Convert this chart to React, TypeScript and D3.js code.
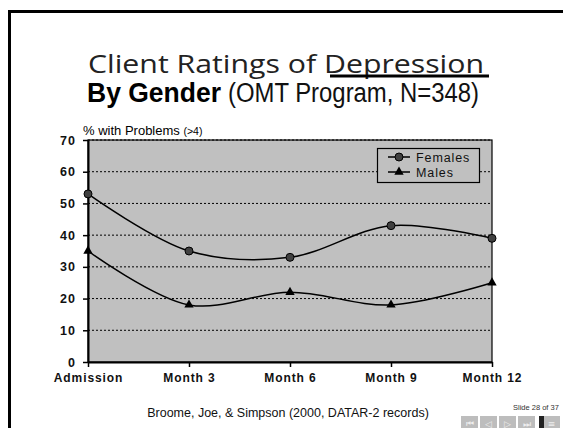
import React, { useEffect, useRef } from "react";
import * as d3 from "d3";

const months = ["Admission", "Month 3", "Month 6", "Month 9", "Month 12"];
const females = [53, 35, 33, 43, 39];
const males = [35, 18, 22, 18, 25];
const yTicks = [0, 10, 20, 30, 40, 50, 60, 70];
const navButtons = ["⏮", "◁", "▷", "⏭", "≡"];

export default function App() {
  const ref = useRef<SVGSVGElement>(null);

  const width = 563;
  const height = 428;
  const plot = { left: 88, right: 492, top: 140, bottom: 362 };

  useEffect(() => {
    const svg = d3.select(ref.current);
    svg.selectAll("*").remove();

    const font = "'Liberation Sans', Arial, sans-serif";

    const x = d3.scalePoint<string>().domain(months).range([plot.left, plot.right]);
    const y = d3.scaleLinear().domain([0, 70]).range([plot.bottom, plot.top]);

    // slide frame
    svg
      .append("rect")
      .attr("x", 9.5)
      .attr("y", 11.5)
      .attr("width", 600)
      .attr("height", 500)
      .attr("fill", "white")
      .attr("stroke", "black")
      .attr("stroke-width", 3);

    // titles
    svg
      .append("text")
      .attr("x", 88)
      .attr("y", 73)
      .attr("font-family", "'Open Sans', 'DejaVu Sans', sans-serif")
      .attr("font-size", 26)
      .attr("fill", "#222")
      .attr("textLength", 396)
      .attr("lengthAdjust", "spacingAndGlyphs")
      .text("Client Ratings of Depression");
    svg
      .append("rect")
      .attr("x", 330)
      .attr("y", 74.5)
      .attr("width", 159)
      .attr("height", 3)
      .attr("fill", "black");

    svg
      .append("text")
      .attr("x", 87)
      .attr("y", 102)
      .attr("font-family", font)
      .attr("font-weight", "bold")
      .attr("font-size", 27)
      .attr("fill", "black")
      .attr("textLength", 134)
      .attr("lengthAdjust", "spacingAndGlyphs")
      .text("By Gender");
    svg
      .append("text")
      .attr("x", 228)
      .attr("y", 102)
      .attr("font-family", font)
      .attr("font-size", 27)
      .attr("fill", "#111")
      .attr("textLength", 251)
      .attr("lengthAdjust", "spacingAndGlyphs")
      .text("(OMT Program, N=348)");

    // y label
    const yl = svg
      .append("text")
      .attr("x", 83)
      .attr("y", 135)
      .attr("font-family", font)
      .attr("font-size", 13)
      .attr("fill", "black");
    yl.append("tspan").text("% with Problems ");
    yl.append("tspan").attr("font-size", 10.5).text("(>4)");

    // plot background
    svg
      .append("rect")
      .attr("x", plot.left)
      .attr("y", plot.top)
      .attr("width", plot.right - plot.left)
      .attr("height", plot.bottom - plot.top)
      .attr("fill", "#c0c0c0")
      .attr("stroke", "black")
      .attr("stroke-width", 1.2);

    // grid
    svg
      .append("g")
      .selectAll("line")
      .data(yTicks.filter((d) => d > 0))
      .enter()
      .append("line")
      .attr("x1", plot.left)
      .attr("x2", plot.right)
      .attr("y1", (d) => y(d))
      .attr("y2", (d) => y(d))
      .attr("stroke", "black")
      .attr("stroke-width", 1)
      .attr("stroke-dasharray", "2,2");

    const yAxis = svg
      .append("g")
      .attr("transform", `translate(${plot.left},0)`)
      .call(d3.axisLeft(y).tickValues(yTicks).tickSize(5).tickSizeOuter(0).tickPadding(7));
    yAxis.select(".domain").attr("stroke", "black").attr("stroke-width", 2);
    yAxis.selectAll(".tick line").attr("stroke-width", 1.5);
    yAxis
      .selectAll("text")
      .attr("font-family", font)
      .attr("font-weight", "bold")
      .attr("font-size", 12.5)
      .attr("letter-spacing", 1)
      .attr("fill", "#111");

    const xAxis = svg
      .append("g")
      .attr("transform", `translate(0,${plot.bottom})`)
      .call(d3.axisBottom(x).tickSize(5).tickSizeOuter(0).tickPadding(6));
    xAxis.select(".domain").attr("stroke", "black").attr("stroke-width", 2);
    xAxis.selectAll(".tick line").attr("stroke-width", 1.5);
    xAxis
      .selectAll("text")
      .attr("font-family", font)
      .attr("font-weight", "bold")
      .attr("font-size", 12)
      .attr("letter-spacing", 0.9)
      .attr("fill", "#111");

    const line = d3
      .line<number>()
      .x((d, i) => x(months[i]) as number)
      .y((d) => y(d))
      .curve(d3.curveCatmullRom.alpha(0.5));

    [females, males].forEach((s) => {
      svg
        .append("path")
        .attr("d", line(s))
        .attr("fill", "none")
        .attr("stroke", "black")
        .attr("stroke-width", 1.5);
    });

    svg
      .append("g")
      .selectAll("circle")
      .data(females)
      .enter()
      .append("circle")
      .attr("cx", (d, i) => x(months[i]) as number)
      .attr("cy", (d) => y(d))
      .attr("r", 4)
      .attr("fill", "#404040")
      .attr("stroke", "black")
      .attr("stroke-width", 1);

    const tri = d3.symbol().type(d3.symbolTriangle).size(38);
    svg
      .append("g")
      .selectAll("path")
      .data(males)
      .enter()
      .append("path")
      .attr("d", tri)
      .attr("transform", (d, i) => `translate(${x(months[i])},${y(d)})`)
      .attr("fill", "black");

    // legend
    const lg = svg.append("g");
    lg.append("rect")
      .attr("x", 377.5)
      .attr("y", 148.5)
      .attr("width", 102)
      .attr("height", 34)
      .attr("fill", "#c0c0c0")
      .attr("stroke", "black")
      .attr("stroke-width", 1.2);
    [
      { name: "Females", yy: 157 },
      { name: "Males", yy: 172 },
    ].forEach((e, i) => {
      lg.append("line")
        .attr("x1", 388)
        .attr("x2", 410)
        .attr("y1", e.yy)
        .attr("y2", e.yy)
        .attr("stroke", "black")
        .attr("stroke-width", 1.5);
      if (i === 0) {
        lg.append("circle")
          .attr("cx", 399)
          .attr("cy", e.yy)
          .attr("r", 4)
          .attr("fill", "#404040")
          .attr("stroke", "black");
      } else {
        lg.append("path")
          .attr("d", tri)
          .attr("transform", `translate(399,${e.yy})`)
          .attr("fill", "black");
      }
      lg.append("text")
        .attr("x", 416)
        .attr("y", e.yy + 4.5)
        .attr("font-family", font)
        .attr("font-size", 12.5)
        .attr("letter-spacing", 0.9)
        .attr("fill", "#111")
        .text(e.name);
    });

    // footer
    svg
      .append("text")
      .attr("x", 288)
      .attr("y", 417)
      .attr("text-anchor", "middle")
      .attr("font-family", font)
      .attr("font-size", 12.5)
      .attr("fill", "#111")
      .text("Broome, Joe, & Simpson (2000, DATAR-2 records)");

    svg
      .append("text")
      .attr("x", 513)
      .attr("y", 410)
      .attr("font-family", font)
      .attr("font-size", 7.5)
      .attr("fill", "#333")
      .text("Slide 28 of 37");

    const nav = svg.append("g");
    navButtons.forEach((b, i) => {
      const bx = 461 + i * 19 + (i === 4 ? 6 : 0);
      nav
        .append("rect")
        .attr("x", bx)
        .attr("y", 416)
        .attr("width", 17)
        .attr("height", 14)
        .attr("fill", "#bdbdbd");
      nav
        .append("text")
        .attr("x", bx + 8.5)
        .attr("y", 426.5)
        .attr("text-anchor", "middle")
        .attr("font-family", "'DejaVu Sans', sans-serif")
        .attr("font-size", 9)
        .attr("fill", "#eee")
        .text(b);
    });
    nav
      .append("rect")
      .attr("x", 539)
      .attr("y", 416)
      .attr("width", 5)
      .attr("height", 14)
      .attr("fill", "#222");
  }, []);

  return (
    <svg
      ref={ref}
      width={width}
      height={height}
      style={{ position: "absolute", left: 0, top: 0, background: "white", overflow: "hidden" }}
    />
  );
}
